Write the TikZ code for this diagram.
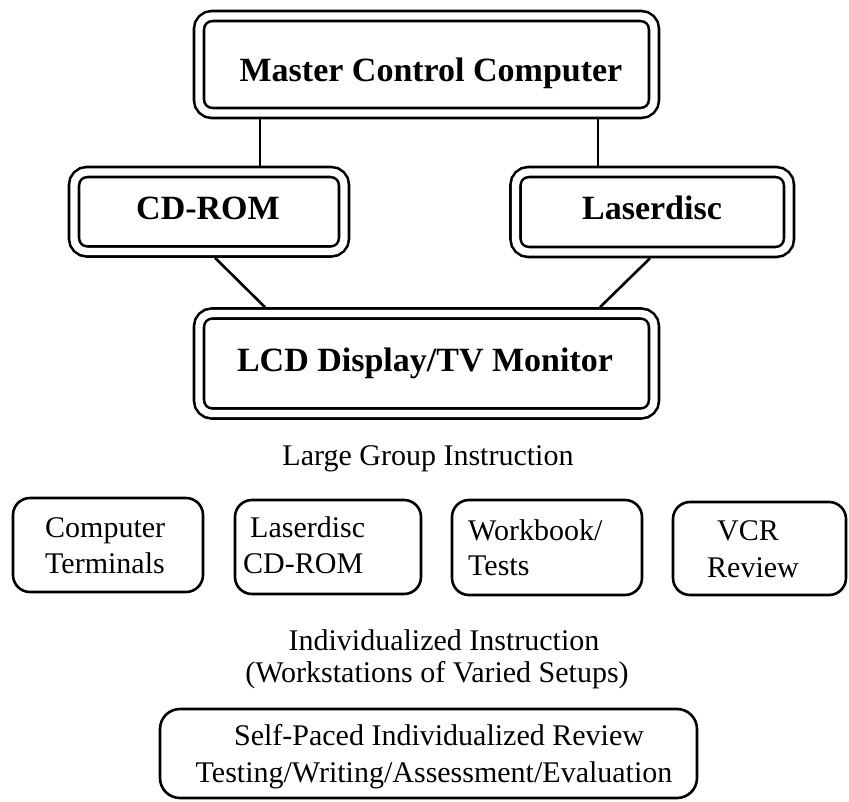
\documentclass[tikz,border=0pt]{standalone}
\usepackage{fontspec}
\setmainfont{Liberation Serif}
\begin{document}
\begin{tikzpicture}[x=1pt,y=-1pt,
  dbox/.style={rectangle, draw, double, double distance=7.4pt, line width=2.6pt,
    rounded corners=13pt, inner sep=0pt, outer sep=6.3pt},
  sbox/.style={rectangle, draw, line width=2.6pt, rounded corners=17pt, inner sep=0pt, outer sep=1.3pt},
  conn/.style={draw, line width=2.6pt},
  btxt/.style={inner sep=0pt, font=\fontsize{34}{40}\selectfont\bfseries},
  rtxt/.style={inner sep=0pt, font=\fontsize{30}{36}\selectfont}]
\useasboundingbox (0,0) rectangle (849,802);

% double-bordered boxes
\node[dbox, minimum width=455pt, minimum height=97pt] (mcc) at (426.5,64.5) {};
\node[dbox, minimum width=270pt, minimum height=79.5pt] (cd) at (209,211.75) {};
\node[dbox, minimum width=273.5pt, minimum height=80pt] (ld) at (652.25,212) {};
\node[dbox, minimum width=455pt, minimum height=100pt] (lcd) at (426.5,363.5) {};

% labels of double boxes
\node[btxt, anchor=base] (tmcc) at (431,82) {Master Control Computer};
\node[btxt, anchor=base] (tcd) at (208,220) {CD-ROM};
\node[btxt, anchor=base] (tld) at (652,220) {Laserdisc};
\node[btxt, anchor=base] (tlcd) at (425,372) {LCD Display/TV Monitor};

% connectors
\draw[conn] ([xshift=-166.5pt]mcc.south) -- ([xshift=-166.5pt]mcc.south |- cd.north);
\draw[conn] ([xshift=171.5pt]mcc.south) -- ([xshift=171.5pt]mcc.south |- ld.north);
\draw[conn] ([xshift=6pt]cd.south) -- ([xshift=-161.5pt]lcd.north);
\draw[conn] ([xshift=-2.25pt]ld.south) -- ([xshift=173.5pt]lcd.north);

\node[rtxt, anchor=base] (lgi) at (428,465) {Large Group Instruction};

% workstation boxes
\node[sbox, minimum width=190pt, minimum height=94pt] (w1) at (108,545) {};
\node[sbox, minimum width=186pt, minimum height=94pt] (w2) at (328,547) {};
\node[sbox, minimum width=190pt, minimum height=95pt] (w3) at (547,547.5) {};
\node[sbox, minimum width=173pt, minimum height=93pt] (w4) at (759.5,548.5) {};

\node[rtxt, anchor=base west] (w1a) at (45,537) {Computer};
\node[rtxt, anchor=base west] (w1b) at (45,573) {Terminals};
\node[rtxt, anchor=base west] (w2a) at (250,537) {Laserdisc};
\node[rtxt, anchor=base west] (w2b) at (243,573) {CD-ROM};
\node[rtxt, anchor=base west] (w3a) at (468,540) {Workbook/};
\node[rtxt, anchor=base west] (w3b) at (468,575) {Tests};
\node[rtxt, anchor=base west] (w4a) at (717,540) {VCR};
\node[rtxt, anchor=base west] (w4b) at (707,577) {Review};

\node[rtxt, anchor=base] (ii1) at (444,650) {Individualized Instruction};
\node[rtxt, anchor=base] (ii2) at (437,682) {(Workstations of Varied Setups)};

% self-paced box
\node[sbox, minimum width=537pt, minimum height=89pt, rounded corners=20pt] (sp) at (428.5,753.5) {};
\node[rtxt, anchor=base] (sp1) at (439,745) {Self-Paced Individualized Review};
\node[rtxt, anchor=base] (sp2) at (434,782) {Testing/Writing/Assessment/Evaluation};
\end{tikzpicture}
\end{document}
